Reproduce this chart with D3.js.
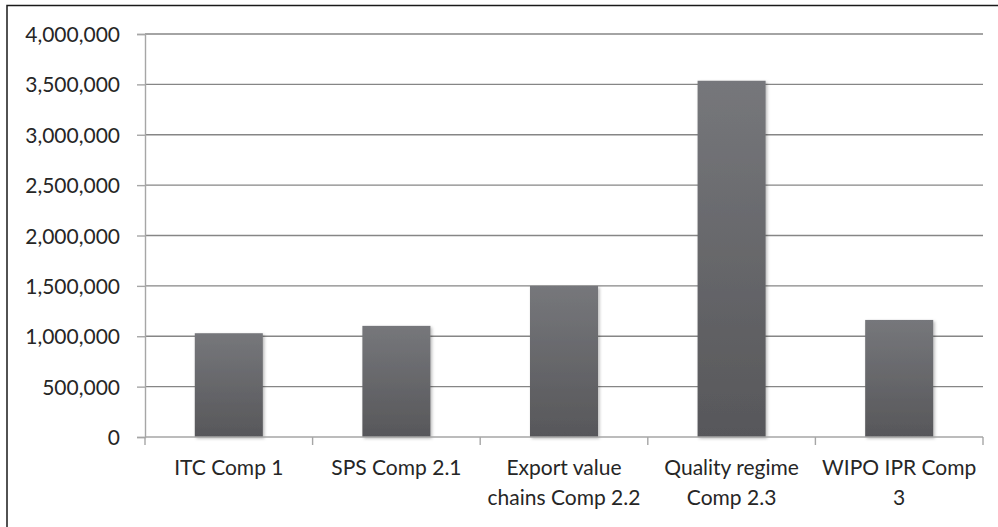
<!DOCTYPE html>
<html>
<head>
<meta charset="utf-8">
<script src="https://cdn.jsdelivr.net/npm/d3@7"></script>
<style>
  html, body { margin: 0; padding: 0; background: #fff; }
  svg text { font-family: Lato, "Open Sans", sans-serif; fill: #262626; }
</style>
</head>
<body>
<svg id="chart" width="998" height="527"></svg>
<script>
// Programme budget by component
const categories = ["ITC Comp 1", "SPS Comp 2.1", "Export value chains Comp 2.2", "Quality regime Comp 2.3", "WIPO IPR Comp 3"];
const values = [1030000, 1103000, 1500000, 3536000, 1162000];
const yTicks = [0, 500000, 1000000, 1500000, 2000000, 2500000, 3000000, 3500000, 4000000];

const svg = d3.select("#chart");
const margin = { left: 145, right: 15, top: 34, bottom: 90 };
const W = 998, H = 527;
const fontSize = 21;

// frame
svg.append("path")
  .attr("d", `M7,527 V5.5 H998`)
  .attr("fill", "none").attr("stroke", "#1a1a1a").attr("stroke-width", 1.5);

const x = d3.scaleBand().domain(categories)
  .range([margin.left, W - margin.right]).paddingInner(0.594).paddingOuter(0.297);
const y = d3.scaleLinear().domain([0, 4000000]).range([H - margin.bottom, margin.top]);

const defs = svg.append("defs");
const grad = defs.append("linearGradient").attr("id", "barGrad")
  .attr("x1", 0).attr("y1", 0).attr("x2", 0).attr("y2", 1);
grad.append("stop").attr("offset", "0%").attr("stop-color", "#76777b");
grad.append("stop").attr("offset", "100%").attr("stop-color", "#57575a");
const shadow = defs.append("filter").attr("id", "barShadow")
  .attr("x", "-20%").attr("y", "-10%").attr("width", "140%").attr("height", "120%");
shadow.append("feDropShadow").attr("dx", 1.5).attr("dy", 1.5).attr("stdDeviation", 1.8)
  .attr("flood-color", "#000").attr("flood-opacity", 0.28);

// gridlines
svg.append("g").selectAll("line").data(yTicks.filter(d => d > 0)).join("line")
  .attr("x1", margin.left).attr("x2", W - margin.right)
  .attr("y1", d => y(d)).attr("y2", d => y(d))
  .attr("stroke", "#868686").attr("stroke-width", 1.4);

// y axis
const yAxis = svg.append("g").attr("transform", `translate(${margin.left},0)`)
  .call(d3.axisLeft(y).tickValues(yTicks).tickSize(8).tickPadding(17)
    .tickFormat(d3.format(",")));
yAxis.select(".domain").attr("stroke", "#a6a6a6").attr("stroke-width", 1.4);
yAxis.selectAll(".tick line").attr("stroke", "#a6a6a6").attr("stroke-width", 1.4);
yAxis.selectAll("text").attr("font-size", fontSize).attr("fill", "#262626")
  .attr("font-family", "Lato, 'Open Sans', sans-serif").attr("dy", "0.36em");

// bars
svg.append("g").selectAll("rect").data(values).join("rect")
  .attr("x", (d, i) => x(categories[i]))
  .attr("width", x.bandwidth())
  .attr("y", d => y(d))
  .attr("height", d => y(0) - y(d))
  .attr("fill", "url(#barGrad)")
  .attr("filter", "url(#barShadow)");

// x axis
const step = x.step();
const xAxisG = svg.append("g").attr("transform", `translate(0,${y(0)})`);
xAxisG.append("line").attr("x1", margin.left).attr("x2", W - margin.right)
  .attr("stroke", "#a6a6a6").attr("stroke-width", 1.4);
xAxisG.selectAll(".tk").data(d3.range(categories.length + 1)).join("line")
  .attr("class", "tk")
  .attr("x1", i => margin.left + i * step).attr("x2", i => margin.left + i * step)
  .attr("y1", 0).attr("y2", 8)
  .attr("stroke", "#a6a6a6").attr("stroke-width", 1.4);

// category labels, wrapped to the band step
const maxW = step;
categories.forEach(c => {
  const cx = x(c) + x.bandwidth() / 2;
  const t = xAxisG.append("text").attr("text-anchor", "middle").attr("font-size", fontSize)
    .attr("x", cx).attr("y", 38);
  const words = c.split(" ");
  let line = [];
  let tspan = t.append("tspan").attr("x", cx).attr("dy", 0);
  words.forEach(w => {
    line.push(w);
    tspan.text(line.join(" "));
    if (tspan.node().getComputedTextLength() > maxW && line.length > 1) {
      line.pop();
      tspan.text(line.join(" "));
      line = [w];
      tspan = t.append("tspan").attr("x", cx).attr("dy", 30).text(w);
    }
  });
});
</script>
</body>
</html>
